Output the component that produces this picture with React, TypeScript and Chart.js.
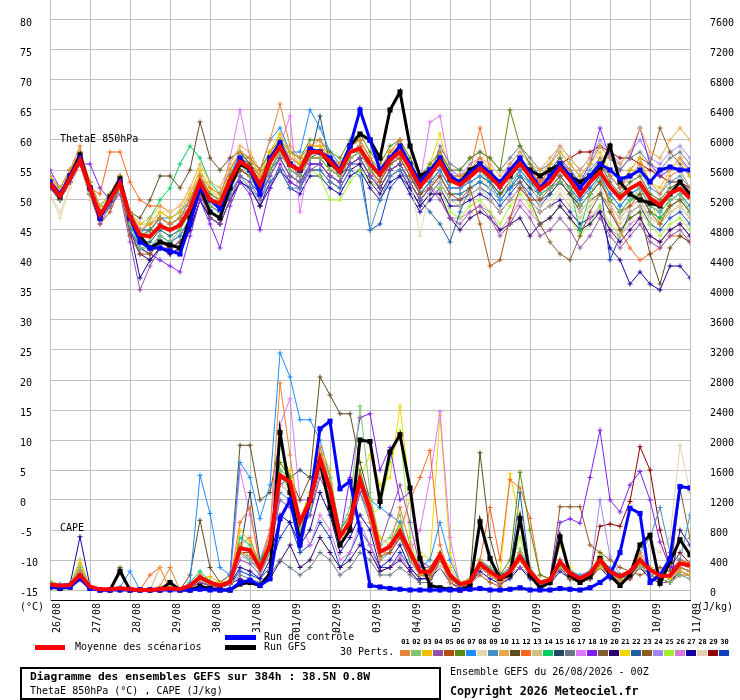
import { useEffect, useRef } from 'react';
import { Chart, registerables } from 'chart.js';

Chart.register(...registerables);

const MONO = '"DejaVu Sans Mono", monospace';
const STEP_HOURS = 6;
const THETA_MIN = -50 / 3;
const THETA_MAX = 250 / 3;
const CAPE_MIN = -400 / 3;
const CAPE_MAX = 23600 / 3;

const dayLabels = ['26/08', '27/08', '28/08', '29/08', '30/08', '31/08', '01/09', '02/09', '03/09',
  '04/09', '05/09', '06/09', '07/09', '08/09', '09/09', '10/09', '11/09'];
const thetaTicks = [-15, -10, -5, 0, 5, 10, 15, 20, 25, 30, 35, 40, 45, 50, 55, 60, 65, 70, 75, 80];
const capeTicks = [0, 400, 800, 1200, 1600, 2000, 2400, 2800, 3200, 3600, 4000, 4400, 4800, 5200,
  5600, 6000, 6400, 6800, 7200, 7600];

const memberColors = ['#e88438', '#80c470', '#f0c000', '#9050a8', '#b05010', '#5a8a10', '#1e8cff',
  '#e8d8b0', '#4090c0', '#e8a850', '#604a20', '#f86820', '#d0c080', '#00d060', '#204860', '#687880',
  '#e078f8', '#8020f0', '#806030', '#300070', '#f0d800', '#2060a0', '#905820', '#a088f0', '#a0f030',
  '#d878d8', '#1800a0', '#e0d0b0', '#900000', '#1040c0'];

// ThetaE 850 hPa (°C), one value every 6 h from 26/08 00Z
const thetaMean = [52.8, 50.6, 53.6, 56.7, 52, 47.5, 50, 52.8, 47.2, 44.2, 43.9, 45.7, 45,
  45.8, 48.6, 53, 50, 49.4, 53.3, 56.4, 55.3, 52.5, 56.4, 58.9, 55.8, 55,
  58, 58, 56.4, 54.7, 58, 58.6, 56, 54.2, 56.7, 58, 55.3, 52.2, 54.2,
  56.4, 53.3, 52.5, 53.9, 55.3, 53.9, 52.2, 54.2, 56.1, 53.9, 51.7, 53, 55.3,
  53.3, 50.8, 53, 54.7, 52.2, 50.3, 51.9, 52.8, 50.3, 49.2, 51.1, 51.9, 50.3];
const thetaControl = [53, 51, 54, 57, 52, 47, 50, 53, 47, 43, 42, 42, 41.5,
  41, 46, 52, 50, 48.5, 53, 57, 55, 51, 57, 59.5, 56, 55,
  58.5, 58, 57, 55, 59, 65, 60, 55, 57, 59, 56, 53, 55,
  57, 54, 53, 54.5, 56, 54.5, 53, 55, 57, 54.5, 52, 54, 56,
  54, 52, 54, 56, 55, 53.5, 54, 55, 53, 55, 55.5, 55, 55];
const thetaGfs = [52.5, 50.5, 54, 57.5, 52, 47, 50.5, 53.5, 47, 44, 42, 43, 42.5,
  42, 47, 52, 48, 47, 52, 56, 55, 52, 57, 59, 56, 55,
  58, 58, 56, 55, 59, 61, 60, 57, 65, 68, 59, 54, 55,
  56.5, 53.5, 53, 55, 56, 54, 53, 54, 56, 55, 54, 55, 56,
  54, 53, 54, 55, 59, 53, 51, 50, 49.5, 49, 51, 53, 51];

const thetaMembers = [
  [54, 51, 55, 59, 52, 48, 51, 54, 48, 45, 46, 47, 46, 47, 50, 54, 52, 51, 55, 58, 57, 55, 60, 66, 59, 57,
    59, 60, 57, 56, 59, 60, 57, 55, 58, 60, 56, 53, 55, 58, 54, 54, 55, 57, 55, 53, 55, 57, 55, 53, 54, 56,
    55, 52, 54, 57, 54, 52, 54, 56, 53, 51, 54, 55, 52],
  [53, 50, 54, 57, 51, 47, 50, 52, 46, 42, 42, 44, 43, 45, 48, 52, 49, 48, 52, 56, 54, 51, 55, 58, 55, 54,
    57, 57, 55, 54, 57, 58, 55, 54, 57, 59, 56, 53, 55, 57, 54, 54, 55, 56, 55, 53, 55, 57, 55, 51, 52, 53,
    52, 49, 51, 54, 50, 48, 50, 52, 49, 48, 50, 51, 48],
  [54, 52, 55, 58, 53, 49, 51, 54, 48, 46, 46, 48, 47, 48, 51, 55, 52, 50, 55, 58, 57, 54, 58, 61, 58, 56,
    59, 59, 57, 56, 59, 60, 57, 55, 58, 59, 56, 53, 55, 57, 54, 53, 55, 56, 55, 53, 55, 57, 55, 54, 56, 58,
    56, 54, 56, 58, 55, 53, 55, 57, 53, 52, 55, 57, 54],
  [52, 50, 53, 56, 51, 46, 49, 51, 43, 35, 39, 42, 42, 43, 46, 51, 47, 46, 50, 54, 53, 50, 54, 57, 54, 53,
    55, 56, 54, 53, 56, 57, 54, 52, 55, 56, 53, 50, 52, 50, 47, 46, 48, 49, 47, 44, 46, 49, 47, 44, 45, 47,
    45, 42, 44, 47, 44, 42, 44, 46, 43, 42, 44, 45, 43],
  [53, 51, 53, 56, 51, 46, 48, 52, 44, 41, 41, 43, 42, 43, 46, 51, 48, 47, 52, 55, 54, 52, 55, 58, 56, 54,
    57, 57, 55, 54, 57, 58, 55, 53, 56, 57, 54, 51, 52, 54, 51, 50, 52, 46, 39, 40, 47, 52, 50, 50, 52, 54,
    52, 49, 51, 53, 50, 48, 49, 51, 48, 46, 49, 50, 48],
  [53, 51, 54, 57, 52, 48, 50, 53, 47, 44, 45, 47, 46, 47, 50, 54, 51, 50, 54, 57, 57, 55, 58, 60, 58, 57,
    60, 60, 58, 57, 60, 61, 58, 56, 59, 60, 57, 54, 56, 58, 55, 55, 57, 58, 57, 55, 65, 59, 56, 54, 55, 57,
    54, 52, 54, 56, 53, 51, 53, 54, 51, 50, 52, 53, 51],
  [54, 52, 55, 58, 53, 49, 51, 54, 48, 45, 45, 47, 47, 48, 50, 53, 49, 48, 54, 58, 57, 55, 60, 62, 58, 58,
    65, 62, 58, 56, 59, 60, 57, 54, 56, 58, 55, 51, 53, 55, 52, 52, 53, 54, 53, 50, 52, 55, 53, 51, 52, 54,
    52, 50, 52, 54, 51, 49, 51, 52, 49, 48, 50, 51, 49],
  [51, 47, 52, 56, 50, 47, 50, 52, 47, 45, 46, 48, 48, 49, 51, 54, 51, 50, 54, 56, 55, 52, 56, 58, 55, 55,
    58, 57, 55, 55, 58, 58, 55, 53, 56, 57, 54, 44, 52, 55, 52, 52, 53, 54, 52, 50, 53, 55, 53, 49, 50, 52,
    50, 48, 50, 52, 49, 47, 49, 50, 47, 46, 48, 49, 47],
  [53, 51, 54, 57, 51, 47, 49, 52, 45, 42, 42, 44, 43, 44, 47, 51, 48, 47, 51, 54, 52, 50, 53, 55, 52, 52,
    55, 55, 53, 52, 55, 54, 45, 50, 54, 55, 53, 50, 52, 54, 51, 51, 52, 53, 52, 50, 52, 54, 53, 52, 54, 56,
    55, 53, 55, 57, 54, 52, 54, 55, 52, 51, 53, 54, 52],
  [54, 52, 55, 58, 53, 49, 51, 54, 48, 46, 47, 49, 48, 49, 52, 56, 53, 52, 56, 59, 58, 55, 58, 60, 57, 56,
    58, 58, 56, 55, 58, 59, 56, 54, 57, 58, 55, 52, 54, 56, 54, 54, 55, 57, 56, 54, 56, 58, 56, 55, 57, 59,
    57, 55, 57, 59, 57, 56, 58, 62, 58, 57, 60, 62, 60],
  [53, 51, 54, 57, 52, 48, 50, 53, 48, 47, 50, 54, 54, 52, 55, 63, 57, 55, 57, 58, 56, 53, 56, 59, 56, 55,
    57, 58, 56, 55, 58, 58, 55, 53, 56, 57, 54, 51, 53, 55, 52, 52, 53, 54, 53, 51, 53, 55, 53, 51, 52, 53,
    51, 48, 50, 51, 48, 45, 47, 48, 41, 36, 42, 44, 43],
  [53, 52, 55, 57, 52, 51, 58, 58, 53, 50, 49, 49, 48, 49, 51, 54, 51, 50, 54, 57, 56, 54, 57, 60, 57, 56,
    59, 59, 57, 56, 59, 60, 57, 55, 58, 60, 56, 53, 55, 57, 54, 54, 55, 62, 55, 53, 55, 57, 55, 53, 55, 56,
    54, 51, 53, 54, 49, 45, 42, 40, 41, 42, 44, 44, 43],
  [52, 50, 53, 56, 51, 47, 49, 52, 46, 44, 45, 47, 46, 47, 50, 54, 51, 50, 53, 56, 55, 52, 56, 58, 56, 55,
    57, 57, 55, 54, 57, 58, 55, 53, 56, 57, 54, 51, 53, 53, 50, 49, 51, 52, 50, 48, 50, 52, 50, 48, 49, 51,
    49, 47, 49, 51, 48, 46, 48, 49, 47, 46, 48, 49, 47],
  [53, 51, 54, 57, 52, 48, 50, 53, 47, 44, 47, 50, 52, 56, 59, 57, 53, 51, 55, 58, 56, 54, 57, 59, 56, 55,
    58, 58, 56, 55, 58, 58, 55, 53, 56, 57, 54, 52, 54, 56, 53, 53, 54, 55, 53, 51, 53, 55, 53, 51, 52, 54,
    52, 45, 51, 53, 50, 48, 50, 51, 48, 47, 49, 50, 48],
  [52, 50, 53, 56, 51, 47, 49, 52, 45, 42, 41, 43, 42, 43, 46, 51, 48, 47, 52, 55, 54, 52, 55, 58, 55, 54,
    57, 64, 56, 54, 56, 57, 54, 52, 55, 56, 53, 50, 52, 54, 51, 51, 52, 53, 52, 50, 52, 54, 52, 50, 51, 53,
    51, 49, 51, 53, 50, 48, 50, 51, 48, 47, 49, 50, 48],
  [53, 51, 54, 57, 52, 48, 50, 53, 47, 43, 45, 47, 46, 47, 49, 53, 50, 49, 53, 56, 55, 53, 56, 59, 57, 56,
    58, 58, 56, 55, 58, 59, 56, 54, 57, 58, 55, 52, 54, 59, 56, 55, 57, 58, 57, 55, 57, 59, 57, 55, 56, 58,
    56, 54, 56, 59, 57, 55, 57, 58, 56, 55, 57, 58, 56],
  [54, 52, 55, 58, 53, 49, 51, 54, 48, 45, 45, 47, 46, 47, 50, 54, 51, 50, 57, 65, 57, 54, 57, 59, 64, 48,
    57, 58, 56, 55, 58, 59, 56, 54, 57, 58, 55, 53, 63, 64, 55, 54, 55, 56, 55, 53, 55, 57, 55, 53, 54, 56,
    54, 52, 54, 56, 53, 51, 53, 54, 51, 50, 52, 53, 51],
  [55, 52, 55, 56, 56, 52, 50, 52, 46, 42, 41, 40, 39, 38, 44, 50, 46, 42, 49, 53, 51, 45, 52, 56, 53, 52,
    56, 56, 54, 53, 56, 57, 54, 52, 55, 56, 53, 50, 52, 55, 52, 52, 54, 55, 54, 52, 54, 56, 54, 53, 55, 57,
    55, 53, 56, 62, 57, 55, 57, 62, 56, 54, 55, 57, 55],
  [53, 51, 54, 57, 52, 48, 50, 53, 47, 44, 44, 46, 45, 46, 48, 52, 49, 48, 52, 55, 54, 52, 55, 58, 55, 54,
    57, 57, 55, 54, 57, 58, 55, 53, 56, 57, 54, 51, 53, 55, 52, 52, 53, 54, 53, 51, 52, 53, 50, 46, 43, 41,
    40, 44, 48, 51, 49, 47, 49, 50, 47, 46, 48, 49, 47],
  [53, 51, 54, 57, 51, 47, 49, 52, 45, 41, 40, 42, 41, 42, 45, 50, 47, 46, 50, 53, 52, 49, 53, 55, 53, 52,
    55, 55, 53, 52, 55, 56, 53, 51, 54, 55, 52, 49, 51, 51, 47, 45, 47, 48, 47, 45, 46, 47, 44, 46, 47, 49,
    47, 45, 46, 48, 45, 43, 45, 47, 44, 43, 45, 46, 44],
  [54, 52, 55, 58, 53, 49, 51, 54, 48, 45, 46, 48, 47, 48, 51, 55, 52, 51, 55, 58, 57, 55, 58, 61, 58, 57,
    59, 59, 57, 56, 59, 60, 57, 55, 58, 59, 56, 53, 56, 61, 54, 53, 55, 56, 55, 53, 55, 57, 55, 53, 54, 56,
    54, 51, 53, 55, 52, 50, 52, 53, 50, 46, 50, 51, 49],
  [52, 50, 53, 56, 51, 47, 49, 52, 46, 43, 43, 45, 44, 45, 48, 52, 49, 48, 52, 55, 54, 51, 55, 57, 54, 53,
    56, 56, 54, 53, 56, 57, 54, 52, 55, 56, 53, 50, 48, 46, 43, 48, 52, 53, 52, 50, 52, 54, 52, 51, 52, 54,
    52, 50, 52, 54, 51, 49, 51, 52, 49, 48, 50, 51, 49],
  [53, 51, 54, 57, 52, 48, 50, 53, 47, 45, 45, 47, 46, 47, 50, 54, 51, 50, 54, 57, 56, 54, 57, 59, 56, 55,
    58, 58, 56, 55, 58, 59, 56, 54, 57, 58, 55, 52, 54, 56, 53, 53, 54, 55, 54, 52, 54, 56, 54, 53, 54, 56,
    54, 52, 54, 56, 54, 52, 55, 57, 56, 62, 58, 56, 54],
  [54, 52, 55, 58, 53, 49, 51, 54, 48, 45, 45, 47, 46, 47, 50, 54, 51, 50, 54, 57, 56, 54, 57, 60, 57, 56,
    58, 58, 56, 55, 58, 59, 56, 54, 57, 57, 54, 51, 53, 58, 55, 54, 56, 57, 55, 53, 56, 58, 56, 54, 56, 59,
    57, 55, 57, 60, 58, 56, 58, 60, 57, 56, 58, 59, 57],
  [53, 50, 53, 56, 51, 47, 49, 52, 46, 43, 43, 45, 44, 45, 48, 52, 49, 48, 52, 55, 54, 52, 55, 57, 54, 53,
    55, 54, 50, 50, 53, 55, 53, 52, 55, 56, 53, 50, 52, 52, 48, 47, 49, 50, 48, 46, 49, 51, 49, 46, 47, 49,
    47, 44, 46, 49, 46, 44, 47, 48, 46, 44, 46, 47, 45],
  [53, 51, 54, 57, 52, 48, 50, 53, 47, 44, 44, 46, 45, 46, 49, 53, 50, 49, 53, 56, 55, 53, 56, 58, 55, 54,
    57, 57, 55, 54, 57, 58, 55, 52, 55, 56, 53, 50, 52, 51, 47, 47, 48, 49, 48, 45, 47, 50, 48, 46, 47, 49,
    47, 45, 47, 49, 45, 44, 46, 47, 44, 43, 45, 46, 44],
  [52, 50, 53, 56, 51, 47, 49, 52, 45, 37, 40, 42, 41, 42, 45, 50, 47, 46, 50, 53, 52, 49, 52, 55, 52, 51,
    54, 54, 52, 51, 54, 55, 52, 50, 53, 54, 51, 48, 50, 52, 49, 49, 50, 51, 50, 48, 50, 52, 50, 48, 49, 50,
    48, 46, 47, 48, 42, 40, 36, 38, 36, 35, 39, 39, 37],
  [51, 48, 52, 56, 50, 47, 49, 52, 47, 45, 46, 48, 47, 48, 51, 54, 51, 50, 54, 56, 55, 53, 56, 58, 55, 54,
    57, 57, 55, 54, 57, 58, 55, 53, 56, 57, 54, 51, 53, 55, 52, 52, 53, 54, 53, 51, 53, 55, 53, 52, 53, 55,
    53, 51, 53, 55, 52, 50, 52, 53, 50, 49, 51, 52, 50],
  [53, 51, 54, 57, 52, 48, 50, 53, 47, 44, 44, 46, 45, 46, 49, 53, 50, 49, 53, 56, 55, 53, 56, 59, 56, 55,
    58, 58, 56, 55, 58, 59, 56, 54, 57, 58, 55, 52, 54, 56, 53, 53, 54, 55, 54, 52, 54, 56, 54, 53, 54, 56,
    57, 58, 58, 59, 58, 57, 57, 56, 55, 54, 53, 53, 52],
  [53, 51, 54, 57, 52, 48, 50, 53, 47, 43, 42, 44, 43, 44, 47, 51, 48, 47, 51, 54, 53, 51, 54, 57, 54, 53,
    56, 56, 54, 53, 56, 56, 45, 46, 52, 54, 52, 49, 51, 53, 50, 50, 51, 52, 51, 49, 51, 53, 51, 49, 51, 53,
    51, 49, 51, 53, 40, 44, 48, 49, 46, 45, 47, 48, 46],
];

// CAPE (J/kg), same time steps
const capeMean = [75, 58, 67, 200, 44, 9, 9, 22, 9, 0, 0, 9, 22,
  9, 58, 170, 100, 58, 110, 555, 533, 290, 600, 1530, 1440, 910,
  1180, 1750, 1350, 710, 910, 1470, 1080, 510, 580, 780, 510, 245, 245,
  470, 200, 75, 110, 355, 245, 155, 245, 445, 245, 100, 133, 378,
  222, 155, 222, 400, 245, 178, 245, 400, 267, 190, 190, 355, 325];
const capeControl = [40, 30, 40, 150, 20, 0, 0, 0, 0, 0, 0, 0, 0,
  0, 0, 10, 0, 0, 0, 100, 130, 60, 150, 950, 1200, 600,
  1200, 2150, 2250, 1350, 1450, 800, 60, 40, 20, 10, 0, 0, 0,
  0, 0, 0, 10, 20, 0, 0, 10, 30, 0, 0, 0, 20,
  10, 0, 30, 100, 200, 500, 1090, 1020, 100, 200, 420, 1380, 1360];
const capeGfs = [40, 20, 40, 180, 30, 0, 0, 250, 0, 0, 0, 0, 100,
  0, 0, 50, 20, 0, 0, 80, 100, 60, 220, 2100, 1300, 650,
  1200, 1700, 1100, 600, 800, 2000, 1980, 1180, 1840, 2070, 1360, 420, 60,
  30, 10, 0, 50, 910, 420, 155, 200, 955, 200, 30, 100, 710,
  200, 100, 180, 420, 200, 60, 200, 600, 730, 90, 380, 670, 470];

const capeMembers = [
  [80, 60, 70, 250, 40, 0, 0, 20, 0, 0, 0, 50, 300, 0, 0, 200, 80, 40, 100, 600, 700, 300, 800, 2760, 1800, 900,
    1200, 1900, 1400, 700, 1000, 1500, 900, 400, 600, 1100, 600, 200, 150, 400, 100, 0, 100, 300, 200, 100, 300, 500, 200, 50, 100, 400,
    200, 100, 200, 350, 200, 100, 200, 500, 300, 150, 200, 300, 250],
  [120, 60, 60, 300, 50, 0, 0, 0, 0, 0, 0, 0, 0, 0, 80, 200, 100, 50, 120, 500, 400, 250, 500, 1600, 1300, 800,
    1100, 1800, 1500, 800, 1100, 2450, 1300, 600, 700, 1000, 400, 200, 300, 500, 200, 50, 100, 350, 300, 150, 250, 550, 300, 100, 100, 300,
    200, 150, 250, 350, 250, 100, 200, 300, 200, 150, 100, 200, 150],
  [70, 50, 60, 350, 30, 0, 0, 0, 0, 0, 0, 0, 0, 0, 50, 150, 180, 100, 120, 800, 650, 300, 700, 1500, 1600, 950,
    1300, 1900, 1600, 700, 800, 1400, 1200, 700, 600, 850, 500, 200, 250, 500, 300, 100, 150, 400, 200, 100, 200, 400, 200, 100, 150, 350,
    200, 100, 200, 300, 200, 150, 250, 350, 250, 200, 150, 250, 200],
  [60, 40, 50, 150, 30, 0, 0, 0, 0, 0, 0, 0, 0, 0, 30, 100, 60, 30, 80, 400, 350, 200, 500, 1200, 1100, 800,
    1000, 1500, 1200, 600, 800, 1300, 1000, 600, 1000, 1400, 900, 300, 300, 500, 200, 50, 100, 300, 200, 100, 200, 300, 200, 50, 100, 300,
    200, 100, 200, 300, 200, 100, 200, 300, 200, 100, 100, 200, 150],
  [90, 70, 80, 220, 50, 0, 0, 0, 0, 0, 0, 0, 0, 0, 50, 150, 80, 40, 90, 500, 500, 300, 600, 1500, 1400, 900,
    1200, 1700, 1300, 700, 900, 1400, 1000, 450, 500, 700, 400, 200, 200, 400, 150, 50, 80, 200, 100, 50, 200, 400, 200, 50, 100, 300,
    150, 100, 150, 300, 200, 100, 150, 300, 200, 150, 100, 200, 200],
  [70, 60, 70, 200, 40, 0, 0, 0, 0, 0, 0, 0, 0, 0, 60, 180, 100, 60, 120, 600, 500, 300, 650, 1700, 1500, 900,
    1300, 1800, 1400, 800, 1000, 1600, 1100, 500, 600, 800, 500, 250, 250, 400, 200, 50, 100, 300, 250, 200, 400, 1570, 800, 200, 150, 350,
    200, 150, 200, 350, 250, 200, 250, 400, 300, 200, 200, 300, 250],
  [100, 80, 90, 300, 60, 0, 0, 40, 250, 0, 0, 0, 0, 0, 100, 1530, 1020, 300, 200, 1700, 1500, 950, 1400, 3160, 2840, 2270,
    2270, 2000, 1500, 800, 1000, 1500, 1200, 1100, 1000, 900, 500, 300, 400, 900, 400, 100, 150, 400, 300, 200, 300, 500, 300, 100, 150, 400,
    250, 200, 250, 400, 300, 200, 250, 400, 300, 200, 200, 300, 250],
  [60, 40, 50, 180, 30, 0, 0, 0, 0, 0, 0, 0, 0, 0, 40, 120, 80, 40, 100, 450, 500, 300, 600, 1400, 1300, 900,
    1100, 1600, 1300, 700, 900, 1300, 1000, 500, 600, 700, 1200, 400, 200, 300, 150, 50, 100, 300, 200, 100, 200, 400, 200, 100, 100, 300,
    200, 100, 200, 300, 200, 100, 200, 300, 250, 200, 150, 300, 250],
  [80, 60, 60, 200, 40, 0, 0, 0, 0, 0, 0, 0, 0, 0, 50, 150, 80, 50, 100, 500, 400, 250, 500, 1300, 1200, 800,
    1000, 1600, 1200, 600, 800, 1300, 900, 400, 500, 700, 400, 200, 200, 400, 150, 50, 100, 300, 200, 100, 200, 400, 200, 100, 100, 300,
    200, 100, 200, 350, 200, 150, 200, 500, 700, 1100, 500, 400, 1000],
  [70, 50, 60, 200, 40, 0, 0, 0, 0, 0, 0, 300, 0, 0, 50, 150, 80, 40, 100, 500, 450, 300, 550, 1500, 1400, 900,
    1100, 1700, 1300, 700, 900, 1400, 1000, 500, 500, 700, 500, 300, 250, 450, 200, 80, 100, 350, 250, 150, 250, 450, 250, 100, 150, 350,
    250, 150, 250, 450, 250, 200, 250, 450, 300, 200, 200, 350, 300],
  [80, 60, 70, 200, 40, 0, 0, 300, 0, 0, 0, 0, 0, 0, 200, 930, 300, 100, 200, 1930, 1930, 1200, 1300, 2000, 1500, 1200,
    1500, 2840, 2600, 2350, 2350, 1700, 1200, 500, 500, 700, 400, 200, 200, 400, 150, 50, 150, 1830, 700, 200, 250, 400, 200, 100, 150, 300,
    200, 150, 200, 400, 200, 150, 200, 350, 300, 200, 150, 300, 250],
  [70, 50, 60, 200, 40, 0, 0, 0, 0, 0, 200, 300, 0, 0, 50, 150, 80, 40, 100, 900, 1100, 300, 600, 1500, 1400, 900,
    1200, 1700, 1300, 700, 900, 1500, 1100, 500, 600, 800, 1200, 1500, 1860, 600, 200, 50, 100, 400, 1100, 400, 1470, 1360, 955, 200, 150, 400,
    200, 150, 200, 400, 250, 200, 250, 400, 300, 200, 200, 400, 350],
  [60, 40, 60, 180, 30, 0, 0, 0, 0, 0, 0, 0, 0, 0, 50, 150, 80, 40, 100, 500, 450, 300, 550, 1400, 1300, 850,
    1100, 1600, 1300, 700, 900, 1400, 1000, 500, 550, 750, 500, 250, 250, 450, 200, 50, 100, 350, 250, 150, 250, 450, 250, 100, 150, 350,
    200, 150, 200, 400, 250, 150, 250, 400, 250, 200, 150, 350, 300],
  [70, 50, 60, 250, 40, 0, 0, 0, 0, 0, 0, 0, 0, 0, 100, 250, 120, 50, 120, 700, 600, 400, 700, 1600, 1500, 900,
    1200, 1800, 1400, 700, 900, 1500, 1100, 500, 600, 900, 500, 200, 250, 500, 200, 50, 100, 350, 250, 150, 250, 500, 250, 100, 150, 400,
    200, 150, 200, 400, 250, 150, 250, 400, 250, 200, 150, 350, 300],
  [60, 50, 50, 200, 30, 0, 0, 0, 0, 0, 0, 0, 0, 0, 50, 150, 80, 40, 100, 500, 1300, 400, 600, 1400, 1500, 1600,
    1500, 1600, 1300, 700, 900, 1400, 1000, 500, 550, 750, 500, 250, 250, 450, 200, 50, 100, 350, 250, 150, 250, 450, 250, 100, 150, 350,
    200, 150, 200, 400, 250, 150, 250, 400, 250, 200, 150, 350, 300],
  [60, 40, 50, 150, 30, 0, 0, 0, 0, 0, 0, 0, 0, 0, 40, 120, 60, 30, 80, 200, 150, 100, 200, 400, 300, 200,
    300, 500, 400, 200, 300, 500, 400, 200, 200, 300, 200, 100, 100, 400, 150, 50, 80, 300, 200, 100, 200, 400, 200, 80, 100, 300,
    150, 100, 150, 350, 200, 100, 200, 350, 200, 150, 100, 300, 250],
  [70, 50, 60, 250, 40, 0, 0, 0, 0, 0, 0, 0, 0, 0, 50, 200, 100, 50, 100, 1600, 1000, 400, 800, 2200, 2550, 1200,
    1200, 1700, 1300, 700, 900, 1400, 1000, 500, 600, 900, 500, 800, 1500, 2380, 700, 50, 100, 300, 200, 100, 200, 400, 200, 100, 150, 350,
    200, 150, 200, 400, 250, 150, 250, 400, 250, 200, 150, 350, 300],
  [80, 60, 70, 300, 50, 0, 0, 0, 0, 0, 0, 0, 0, 0, 50, 150, 80, 40, 100, 500, 450, 300, 600, 1500, 1400, 900,
    1100, 1700, 1300, 700, 1500, 2300, 2350, 1600, 1900, 1200, 1300, 400, 300, 500, 200, 50, 100, 300, 200, 100, 250, 450, 200, 100, 150, 900,
    950, 890, 1500, 2130, 1200, 1040, 1400, 1580, 1200, 640, 300, 350, 300],
  [70, 50, 60, 200, 40, 0, 0, 250, 0, 0, 0, 0, 0, 0, 50, 150, 80, 40, 100, 500, 450, 300, 600, 1500, 1400, 900,
    1100, 1700, 1300, 700, 900, 1400, 1000, 500, 600, 800, 500, 250, 250, 450, 200, 50, 100, 350, 250, 150, 250, 450, 250, 100, 150, 350,
    200, 150, 200, 400, 250, 150, 250, 400, 250, 200, 150, 1350, 690],
  [60, 40, 50, 150, 30, 0, 0, 0, 0, 0, 0, 0, 0, 0, 40, 100, 60, 30, 80, 150, 100, 80, 150, 380, 600, 300,
    400, 700, 500, 300, 400, 600, 500, 250, 300, 400, 250, 100, 100, 400, 150, 50, 80, 300, 200, 100, 200, 400, 200, 80, 100, 300,
    150, 100, 150, 350, 200, 100, 200, 350, 200, 150, 100, 800, 600],
  [90, 60, 70, 400, 50, 0, 0, 0, 0, 0, 0, 0, 0, 0, 50, 200, 100, 50, 120, 600, 500, 300, 700, 1700, 1500, 900,
    1300, 1900, 1500, 800, 1000, 1500, 1800, 1400, 1500, 2450, 1300, 500, 400, 2330, 500, 100, 150, 400, 300, 200, 1550, 900, 300, 100, 150, 600,
    300, 150, 250, 400, 250, 150, 250, 400, 250, 200, 150, 350, 300],
  [70, 50, 60, 200, 40, 0, 0, 0, 0, 0, 0, 0, 0, 0, 50, 150, 80, 40, 100, 500, 450, 300, 600, 1500, 1400, 900,
    1100, 1700, 1300, 700, 900, 1400, 1000, 500, 600, 800, 500, 250, 250, 450, 200, 50, 100, 350, 250, 150, 250, 1300, 250, 100, 150, 350,
    200, 150, 200, 400, 250, 150, 250, 400, 250, 200, 150, 350, 300],
  [70, 50, 60, 200, 40, 0, 0, 0, 0, 0, 0, 0, 0, 0, 50, 150, 80, 40, 100, 500, 450, 300, 600, 1500, 1400, 900,
    1100, 1700, 1300, 700, 900, 1400, 1000, 500, 600, 800, 500, 250, 250, 450, 200, 50, 100, 350, 250, 150, 250, 450, 250, 100, 150, 1110,
    1110, 1110, 600, 500, 400, 300, 250, 200, 250, 300, 250, 400, 350],
  [60, 40, 50, 400, 30, 0, 0, 0, 0, 0, 0, 0, 0, 0, 40, 120, 80, 40, 100, 450, 400, 300, 550, 1400, 1300, 850,
    1000, 1600, 1200, 700, 800, 1300, 1000, 500, 550, 700, 450, 250, 250, 400, 200, 50, 100, 300, 200, 100, 250, 400, 200, 100, 150, 300,
    200, 150, 200, 1200, 450, 200, 250, 400, 250, 200, 150, 350, 300],
  [120, 70, 70, 250, 50, 0, 0, 0, 0, 0, 0, 0, 0, 0, 60, 150, 80, 40, 100, 500, 450, 300, 600, 1500, 1400, 900,
    1100, 1700, 1300, 700, 900, 1400, 1000, 1100, 1700, 2130, 700, 250, 250, 450, 200, 50, 100, 350, 250, 150, 300, 700, 250, 100, 150, 350,
    200, 150, 200, 500, 250, 150, 250, 400, 250, 200, 150, 350, 300],
  [70, 50, 60, 220, 40, 0, 0, 0, 0, 0, 0, 0, 0, 0, 50, 150, 80, 40, 100, 500, 450, 300, 600, 1500, 1400, 900,
    600, 1000, 800, 400, 500, 900, 600, 250, 300, 450, 250, 100, 100, 400, 150, 50, 100, 300, 200, 100, 200, 400, 200, 100, 100, 300,
    200, 100, 200, 350, 200, 100, 200, 350, 200, 150, 100, 300, 250],
  [80, 60, 70, 710, 50, 0, 0, 0, 0, 0, 0, 0, 0, 0, 30, 100, 60, 30, 80, 300, 250, 150, 400, 1000, 900, 600,
    800, 1300, 1000, 500, 700, 1000, 800, 300, 400, 600, 300, 150, 150, 300, 100, 30, 80, 250, 150, 80, 150, 300, 150, 50, 80, 250,
    150, 100, 150, 300, 150, 100, 150, 300, 150, 100, 100, 250, 200],
  [60, 40, 50, 180, 30, 0, 0, 0, 0, 0, 0, 0, 0, 0, 40, 150, 80, 40, 100, 500, 450, 300, 600, 1400, 1300, 900,
    1100, 1600, 1300, 700, 900, 1400, 1000, 500, 600, 800, 500, 250, 250, 450, 200, 50, 100, 350, 250, 150, 250, 450, 250, 100, 150, 350,
    200, 150, 200, 400, 250, 150, 250, 400, 600, 500, 700, 1930, 1300],
  [70, 50, 60, 200, 40, 0, 0, 0, 0, 0, 0, 0, 0, 0, 50, 150, 80, 40, 100, 500, 450, 300, 600, 1500, 1400, 900,
    1100, 1700, 1300, 700, 900, 1400, 1000, 500, 600, 800, 500, 250, 250, 450, 200, 50, 100, 350, 250, 150, 250, 450, 250, 100, 150, 350,
    200, 150, 200, 850, 880, 850, 1180, 1910, 1600, 800, 300, 500, 350],
  [60, 40, 50, 180, 30, 0, 0, 0, 0, 0, 0, 0, 0, 0, 40, 120, 60, 30, 80, 250, 200, 150, 300, 700, 900, 500,
    600, 900, 700, 300, 500, 800, 600, 300, 300, 500, 300, 150, 150, 400, 150, 50, 80, 300, 200, 100, 200, 400, 200, 80, 100, 300,
    150, 100, 150, 350, 200, 100, 200, 350, 200, 150, 100, 300, 250],
];

const toPoints = (values: number[]) => values.map((v, i) => ({ x: i * STEP_HOURS, y: v }));

function series(label: string, values: number[], axis: string, color: string, width: number, order: number, extra = {}) {
  return {
    label,
    data: toPoints(values),
    yAxisID: axis,
    borderColor: color,
    backgroundColor: color,
    borderWidth: width,
    tension: 0,
    pointRadius: 0,
    order,
    ...extra,
  };
}

// the plot area runs right up to the canvas top: drop the room Chart.js keeps for half tick labels
const noScalePadding = (scale: any) => {
  scale.paddingTop = 0;
  scale.paddingBottom = 0;
  scale.paddingLeft = 0;
  scale.paddingRight = 0;
};

const seriesTitles = {
  id: 'seriesTitles',
  afterDraw(chart: any) {
    const { ctx, chartArea, scales } = chart;
    ctx.save();
    ctx.font = `10px ${MONO}`;
    ctx.fillStyle = '#000';
    ctx.textBaseline = 'middle';
    ctx.textAlign = 'left';
    ctx.fillText('ThetaE 850hPa', chartArea.left + 10, scales.y.getPixelForValue(60) - 1);
    ctx.fillText('CAPE', chartArea.left + 10, scales.y.getPixelForValue(-5) - 2);
    ctx.restore();
  },
};

function Label({ left, top, size = 10, bold = false, children }: any) {
  return (
    <div
      style={{
        position: 'absolute', left, top, font: `${bold ? 'bold ' : ''}${size}px ${MONO}`,
        lineHeight: '14px', whiteSpace: 'pre', color: '#000',
      }}
    >
      {children}
    </div>
  );
}

function Bar({ left, top, width, color }: any) {
  return <div style={{ position: 'absolute', left, top, width, height: 5, background: color }} />;
}

export default function App() {
  const canvasRef = useRef<HTMLCanvasElement>(null);
  const chartRef = useRef<Chart | null>(null);

  useEffect(() => {
    if (!canvasRef.current) return;
    if (chartRef.current) chartRef.current.destroy();

    const tickFont = { family: MONO, size: 10 };
    const datasets: any[] = [
      series('Moyenne ThetaE', thetaMean, 'y', '#ff0000', 4, 0),
      series('Moyenne CAPE', capeMean, 'y2', '#ff0000', 4, 0),
      series('Contrôle ThetaE', thetaControl, 'y', '#0000ff', 3, 1, { pointRadius: 1.5, pointStyle: 'rect' }),
      series('Contrôle CAPE', capeControl, 'y2', '#0000ff', 3, 1, { pointRadius: 1.5, pointStyle: 'rect' }),
      series('GFS ThetaE', thetaGfs, 'y', '#000000', 3, 2, { pointRadius: 1.5, pointStyle: 'rect' }),
      series('GFS CAPE', capeGfs, 'y2', '#000000', 3, 2, { pointRadius: 1.5, pointStyle: 'rect' }),
    ];
    const memberStyle = { pointStyle: 'cross', pointRadius: 2.5, pointBorderWidth: 1 };
    thetaMembers.forEach((values, i) => {
      datasets.push(series(`P${i + 1} ThetaE`, values, 'y', memberColors[i], 1, 3, memberStyle));
    });
    capeMembers.forEach((values, i) => {
      datasets.push(series(`P${i + 1} CAPE`, values, 'y2', memberColors[i], 1, 3, memberStyle));
    });

    chartRef.current = new Chart(canvasRef.current, {
      type: 'line',
      data: { datasets },
      plugins: [seriesTitles],
      options: {
        responsive: false,
        animation: false,
        events: [],
        layout: { autoPadding: false, padding: { left: 20, right: 0, top: 0, bottom: 0 } },
        plugins: { legend: { display: false }, tooltip: { enabled: false } },
        scales: {
          x: {
            type: 'linear',
            position: 'bottom',
            min: 0,
            max: 384,
            afterFit: (scale: any) => { scale.height = 100; noScalePadding(scale); },
            grid: { color: '#c0c0c0', drawTicks: false },
            border: { color: '#000000', width: 1 },
            ticks: {
              stepSize: 24,
              autoSkip: false,
              minRotation: 90,
              maxRotation: 90,
              labelOffset: 7,
              padding: 3,
              color: '#000',
              font: tickFont,
              callback: (v: any) => dayLabels[Math.round(Number(v) / 24)] ?? '',
            },
          },
          y: {
            type: 'linear',
            position: 'left',
            min: THETA_MIN,
            max: THETA_MAX,
            afterFit: (scale: any) => { scale.width = 30; noScalePadding(scale); },
            afterBuildTicks: (scale: any) => { scale.ticks = thetaTicks.map((value) => ({ value })); },
            grid: { color: '#c0c0c0', drawTicks: false },
            border: { color: '#c0c0c0' },
            ticks: { crossAlign: 'far', padding: 0, labelOffset: 3, color: '#000', font: tickFont, callback: (v: any) => String(v) },
          },
          y2: {
            type: 'linear',
            position: 'right',
            min: CAPE_MIN,
            max: CAPE_MAX,
            afterFit: (scale: any) => { scale.width = 50; noScalePadding(scale); },
            afterBuildTicks: (scale: any) => { scale.ticks = capeTicks.map((value) => ({ value })); },
            grid: { drawOnChartArea: false, drawTicks: true, tickLength: 20, tickColor: 'rgba(0,0,0,0)' },
            border: { display: false },
            ticks: { crossAlign: 'near', padding: 0, labelOffset: 3, color: '#000', font: tickFont, callback: (v: any) => String(v) },
          },
        },
      },
    } as any);

    return () => {
      if (chartRef.current) {
        chartRef.current.destroy();
        chartRef.current = null;
      }
    };
  }, []);

  return (
    <div style={{ position: 'absolute', left: 0, top: 0, width: 740, height: 700, background: '#fff', overflow: 'hidden' }}>
      <canvas ref={canvasRef} width={740} height={700} style={{ position: 'absolute', left: 0, top: 0 }} />
      <Label left={20} top={600}>(°C)</Label>
      <Label left={697} top={600}>(J/kg)</Label>

      <Bar left={35} top={645} width={30} color="#ff0000" />
      <Label left={75} top={640}>Moyenne des scénarios</Label>
      <Bar left={225} top={635} width={31} color="#0000ff" />
      <Label left={264} top={630}>Run de contrôle</Label>
      <Bar left={225} top={645} width={31} color="#000000" />
      <Label left={264} top={640}>Run GFS</Label>
      <Label left={340} top={645}>30 Perts.</Label>

      {memberColors.map((color, i) => (
        <div key={color + i}>
          <div
            style={{
              position: 'absolute', left: 400 + i * 11, top: 638, width: 11, textAlign: 'center',
              font: `bold 7px ${MONO}`, lineHeight: '8px', color: '#000',
            }}
          >
            {String(i + 1).padStart(2, '0')}
          </div>
          <div style={{ position: 'absolute', left: 400 + i * 11, top: 650, width: 10, height: 6, background: color }} />
        </div>
      ))}

      <div
        style={{
          position: 'absolute', left: 20, top: 667, width: 421, height: 33,
          boxSizing: 'border-box', border: '2px solid #000',
        }}
      />
      <Label left={30} top={670} size={11.3} bold>Diagramme des ensembles GEFS sur 384h : 38.5N 0.8W</Label>
      <Label left={30} top={684}>ThetaE 850hPa (°C) , CAPE (J/kg)</Label>
      <Label left={450} top={665}>Ensemble GEFS du 26/08/2026 - 00Z</Label>
      <Label left={450} top={684} size={11.6} bold>Copyright 2026 Meteociel.fr</Label>
    </div>
  );
}
